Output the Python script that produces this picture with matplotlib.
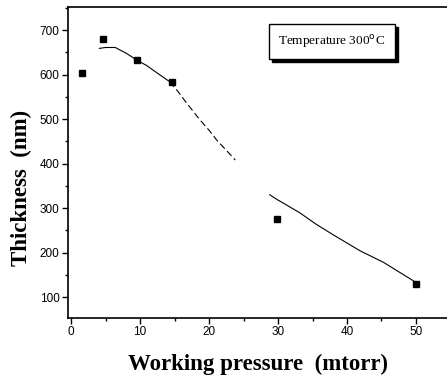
import matplotlib
matplotlib.use("Agg")
import matplotlib.pyplot as plt
from matplotlib.patches import Rectangle
from matplotlib.ticker import MultipleLocator

# measured points
pressure = [1.6, 4.6, 9.6, 14.7, 29.9, 50.0]
thickness = [603, 681, 632, 584, 276, 130]

# fitted curve, drawn as segments with scan gaps
fit1_x = [4.1, 5.0, 6.4, 8.0, 9.5, 11.0, 11.9, 13.0, 14.3]
fit1_y = [659, 661, 661, 648, 633, 620, 610, 598, 584]
fit2_x = [14.3, 15.5, 16.8, 18.7, 20.0, 21.1, 22.5, 23.8]
fit2_y = [584, 562, 535, 498, 475, 453, 430, 408]
fit3_x = [28.8, 30.0, 30.8, 33.2, 35.6, 38.0, 41.9, 45.3, 50.0]
fit3_y = [330, 318, 311, 289, 263, 240, 204, 178, 133]

xticks = [0, 10, 20, 30, 40, 50]
yticks = [100, 200, 300, 400, 500, 600, 700]

fig = plt.figure(figsize=(4.47, 3.81), dpi=100)
ax = fig.add_axes([68/447, 1-318/381, 1-68/447, (318-7)/381])

ax.plot(fit1_x, fit1_y, color="black", lw=0.8)
ax.plot(fit2_x, fit2_y, color="black", lw=0.8, linestyle=(0, (6, 3)))
ax.plot(fit3_x, fit3_y, color="black", lw=0.8)
ax.plot(pressure, thickness, linestyle="none", marker="s", markersize=5,
        color="black")

ax.set_xlim(-0.45, 54.5)
ax.set_ylim(53, 752)
ax.set_xticks(xticks)
ax.set_yticks(yticks)
ax.xaxis.set_minor_locator(MultipleLocator(5))
ax.yaxis.set_minor_locator(MultipleLocator(50))
ax.tick_params(which="major", direction="out", length=4, width=1,
               labelsize=8.5, pad=2)
ax.tick_params(which="minor", direction="out", length=2.5, width=1)
for lab in ax.get_xticklabels() + ax.get_yticklabels():
    lab.set_family("Liberation Sans")
ax.spines["right"].set_visible(False)
for s in ["left", "bottom", "top"]:
    ax.spines[s].set_linewidth(1.2)

ax.set_xlabel("Working pressure  (mtorr)", family="Liberation Serif",
              fontweight="bold", fontsize=16.5, labelpad=11)
ax.set_ylabel("Thickness  (nm)", family="Liberation Serif",
              fontweight="bold", fontsize=16.5, labelpad=8)
ax.yaxis.set_label_coords(-0.095, 0.418)

# annotation box with shadow
bx, by, bw, bh = (269-68)/379, 1-(59-7)/311, 126/379, 35/311
ax.add_patch(Rectangle((bx + 3/379, by - 3/311), bw, bh, transform=ax.transAxes,
                       facecolor="black", edgecolor="black", zorder=4))
ax.add_patch(Rectangle((bx, by), bw, bh, transform=ax.transAxes,
                       facecolor="white", edgecolor="black", lw=1, zorder=5))
ax.text(bx + bw/2, by + bh/2, "Temperature 300$^{\\rm o}$C", transform=ax.transAxes,
        ha="center", va="center", family="Liberation Serif", fontsize=9.5,
        zorder=6)

fig.savefig("out.png", dpi=100)
